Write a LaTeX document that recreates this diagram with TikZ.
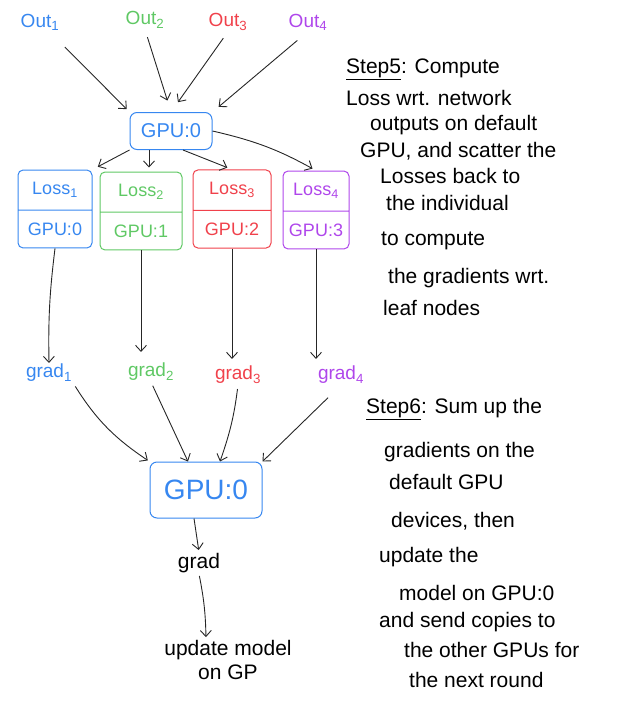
\documentclass[tikz,border=0pt]{standalone}
\usepackage{fontspec}
\setmainfont{Liberation Sans}
\usetikzlibrary{arrows.meta,shapes.multipart}
\definecolor{cblue}{RGB}{55,135,240}
\definecolor{cgreen}{RGB}{95,200,100}
\definecolor{cred}{RGB}{240,65,75}
\definecolor{cpurple}{RGB}{175,70,235}
\newcommand{\ind}[1]{\hspace*{#1pt}}
\begin{document}
\begin{tikzpicture}[x=1pt,y=-1pt,
  lbl/.style={font=\fontsize{19}{21}\selectfont, inner sep=1pt},
  gpubox/.style={draw=cblue, line width=1pt, rounded corners=7pt, text=cblue},
  losssplit/.style={rectangle split, rectangle split parts=2, draw=#1, text=#1,
    line width=1pt, rounded corners=5pt, font=\fontsize{18}{20}\selectfont,
    align=center, inner ysep=12pt, inner xsep=3pt},
  flow/.style={draw=black!85, line width=0.9pt, -{Straight Barb[length=6pt,width=11pt]}},
  note/.style={anchor=north west, align=left, font=\fontsize{21}{21}\selectfont, inner sep=0pt}
]
\useasboundingbox (0,0) rectangle (619,701);

% network outputs
\node[lbl, text=cblue]   (o1) at (40,22)  {Out\textsubscript{1}};
\node[lbl, text=cgreen]  (o2) at (145,20) {Out\textsubscript{2}};
\node[lbl, text=cred]    (o3) at (228,22) {Out\textsubscript{3}};
\node[lbl, text=cpurple] (o4) at (308,22) {Out\textsubscript{4}};

% default GPU collecting the outputs
\node[gpubox, minimum width=82pt, minimum height=37pt, font=\fontsize{20}{22}\selectfont] (g0) at (171,131) {GPU:0};

% per-device losses
\node[losssplit=cblue,   minimum width=74pt] (l1) at (55,209)  {Loss\textsubscript{1}\nodepart{two}GPU:0};
\node[losssplit=cgreen,  minimum width=82pt] (l2) at (141,211) {Loss\textsubscript{2}\nodepart{two}GPU:1};
\node[losssplit=cred,    minimum width=78pt] (l3) at (232,209) {Loss\textsubscript{3}\nodepart{two}GPU:2};
\node[losssplit=cpurple, minimum width=66pt] (l4) at (316,210) {Loss\textsubscript{4}\nodepart{two}GPU:3};

% gradients
\node[lbl, text=cblue]   (gr1) at (49,373)  {grad\textsubscript{1}};
\node[lbl, text=cgreen]  (gr2) at (151,372) {grad\textsubscript{2}};
\node[lbl, text=cred]    (gr3) at (238,375) {grad\textsubscript{3}};
\node[lbl, text=cpurple] (gr4) at (341,375) {grad\textsubscript{4}};

% reduction on the default GPU
\node[gpubox, minimum width=112pt, minimum height=56pt, font=\fontsize{28}{30}\selectfont] (b0) at (206,490) {GPU:0};
\node[lbl, font=\fontsize{21}{23}\selectfont] (gsum) at (199,563) {grad};
\node[lbl, align=center, font=\fontsize{21}{24}\selectfont] (upd) at (228,660) {update model\\on GP};

% connectors
\draw[flow, shorten <=22pt, shorten >=4pt] (o1) -- (g0.north west);
\draw[flow, shorten <=8pt, shorten >=12pt] (o2.south) -- (g0.north);
\draw[flow, shorten <=8pt, shorten >=12pt] (o3.south) -- (g0.north);
\draw[flow, shorten <=14pt, shorten >=8pt] (o4.south) -- (g0.north east);

\draw[flow, shorten >=6pt] (g0.south west) -- (l1.north east);
\draw[flow, shorten >=4pt] (g0.south -| l2.north) ++(8,0) coordinate (s2) (s2) -- (s2 |- l2.north);
\draw[flow, shorten >=5pt] (g0.south) ++(12,0) coordinate (s3) (s3) -- (l3.north);
\draw[flow, shorten >=4pt] (g0.east) to[bend left=8] (l4.north);

\draw[flow] (l1.south) to[bend right=4] (gr1.north);
\draw[flow, shorten >=10pt] (l2.south) -- (l2.south |- gr2.north);
\draw[flow, shorten >=6pt] (l3.south) -- (l3.south |- gr3.north);
\draw[flow, shorten >=6pt] (l4.south) -- (l4.south |- gr4.north);

\draw[flow, shorten <=4pt, shorten >=2pt] (gr1.south east) to[bend right=12] (b0.north west);
\draw[flow, shorten <=4pt] (gr2.south) -- ([xshift=-18pt]b0.north);
\draw[flow, shorten <=4pt] (gr3.south) to[bend left=6] ([xshift=14pt]b0.north);
\draw[flow, shorten <=18pt] (gr4.south) -- (b0.north east);

\draw[flow, shorten >=2pt] ([xshift=-12pt]b0.south) -- (gsum.north);
\draw[flow, shorten <=2pt, shorten >=2pt] (gsum.south) to[bend left=5] ([xshift=-22pt]upd.north);

% explanations
\node[note] (s5) at (346,59) {%
  \underline{Step5}: Compute\\[9pt]
  Loss wrt. network\\[4pt]
  \ind{24}outputs on default\\[6pt]
  \ind{14}GPU, and scatter the\\[5pt]
  \ind{34}Losses back to\\[6pt]
  \ind{40}the individual\\[14pt]
  \ind{35}to compute\\[17pt]
  \ind{42}the gradients wrt.\\[11pt]
  \ind{37}leaf nodes};

\node[note] (s6) at (366,398) {%
  \underline{Step6}: Sum up the\\[21pt]
  \ind{18}gradients on the\\[11pt]
  \ind{23}default GPU\\[17pt]
  \ind{25}devices, then\\[14pt]
  \ind{13}update the\\[17pt]
  \ind{33}model on GPU:0\\[6pt]
  \ind{13}and send copies to\\[9pt]
  \ind{38}the other GPUs for\\[9pt]
  \ind{43}the next round};
\end{tikzpicture}
\end{document}
